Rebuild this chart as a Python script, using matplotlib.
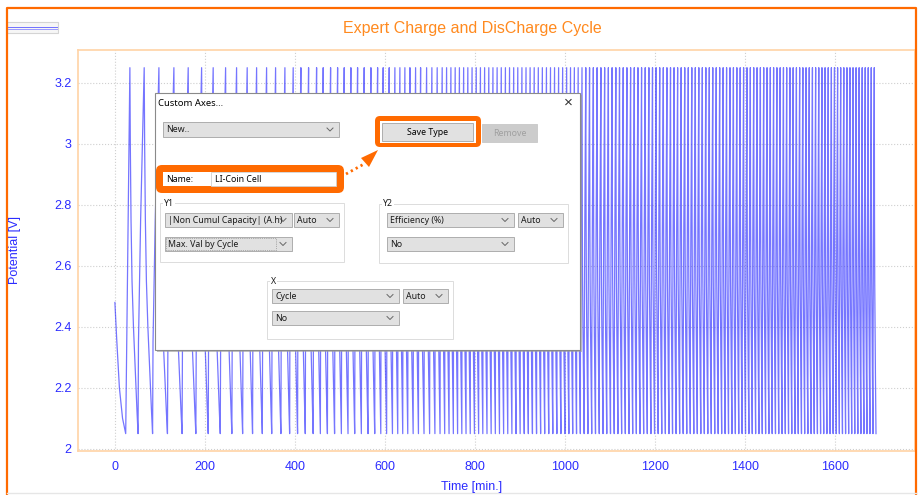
import matplotlib
matplotlib.use('Agg')
import matplotlib.pyplot as plt
from matplotlib.patches import Rectangle, FancyBboxPatch, Polygon

# potential trace: times (min) of the 3.25 V peaks
start_t = [0.0, 4.0, 10.0, 17.0, 24.0]
start_v = [2.48, 2.36, 2.20, 2.10, 2.05]
peak_times = [
    33.3, 65.1, 97.8, 131.1, 162.9, 192.7, 218.4, 246.0, 270.4, 294.0,
    314.9, 337.1, 357.1, 377.8, 396.2, 413.3, 430.4, 448.2, 462.9, 479.3,
    494.9, 509.6, 524.4, 539.3, 554.0, 568.9, 583.8, 596.2, 609.6, 622.2,
    633.3, 644.4, 655.6, 668.2, 679.3, 692.7, 704.4, 716.2, 727.3, 737.1,
    746.7, 756.2, 765.6, 775.0, 784.3, 793.7, 803.0, 812.3, 821.6, 830.9,
    840.1, 849.4, 858.6, 867.8, 877.0, 886.2, 895.3, 904.5, 913.6, 922.7,
    931.8, 940.9, 949.9, 959.0, 968.0, 977.0, 986.0, 995.0, 1003.9, 1012.5,
    1021.0, 1029.5, 1038.0, 1046.4, 1054.8, 1063.2, 1071.6, 1080.0, 1088.3, 1096.6,
    1104.9, 1113.2, 1121.4, 1129.6, 1137.8, 1146.0, 1154.2, 1162.3, 1170.4, 1178.5,
    1186.6, 1194.7, 1202.7, 1210.7, 1218.7, 1226.7, 1234.7, 1242.6, 1250.5, 1258.4,
    1266.3, 1274.2, 1282.0, 1289.8, 1297.6, 1305.4, 1313.2, 1320.9, 1328.6, 1336.3,
    1344.0, 1351.7, 1359.3, 1366.9, 1374.5, 1382.1, 1389.6, 1397.1, 1404.6, 1412.1,
    1419.6, 1427.0, 1434.4, 1441.8, 1449.2, 1456.5, 1463.8, 1471.1, 1478.4, 1485.7,
    1492.9, 1500.1, 1507.3, 1514.5, 1521.7, 1528.8, 1535.9, 1543.0, 1550.1, 1557.2,
    1564.2, 1571.2, 1578.2, 1585.2, 1592.2, 1599.1, 1606.0, 1612.9, 1619.8, 1626.7,
    1633.5, 1640.3, 1647.1, 1653.9, 1660.7, 1667.4, 1674.1, 1680.8, 1687.5,
]
# shape of one cycle from its peak to the next one (fraction of the cycle, volts)
cycle_frac = [0.0, 0.03, 0.08, 0.15, 0.25, 0.38, 0.50, 0.57, 0.60, 0.75, 0.92]
cycle_volt = [3.25, 3.00, 2.75, 2.55, 2.40, 2.25, 2.12, 2.05, 2.35, 2.75, 3.10]

x_ticks = [0, 200, 400, 600, 800, 1000, 1200, 1400, 1600]
y_ticks = [2.0, 2.2, 2.4, 2.6, 2.8, 3.0, 3.2]
y_labels = ['2', '2.2', '2.4', '2.6', '2.8', '3', '3.2']

W, H = 918, 495
BLUE = '#2b2bff'
ORANGE = '#ff6a00'
plt.rcParams['font.family'] = ['Liberation Sans', 'DejaVu Sans']


def box(x0, y0, x1, y1):
    return [x0 / W, 1 - y1 / H, (x1 - x0) / W, (y1 - y0) / H]


def combo(a, x0, y0, x1, y1, text, fc='#e1e1e1', ec='#adadad', color='#1a1a1a', arrow=True):
    a.add_patch(Rectangle((x0, y0), x1 - x0, y1 - y0, fc=fc, ec=ec, lw=0.7))
    cy = (y0 + y1) / 2
    a.text(x0 + 3, cy + 0.5, text, fontsize=6.3, va='center', ha='left', color=color,
           family='Noto Sans')
    if arrow:
        a.plot([x1 - 12, x1 - 9, x1 - 6], [cy - 1.5, cy + 1.5, cy - 1.5], color='#666666', lw=0.7)


def group(a, x0, y0, x1, y1, label):
    a.add_patch(Rectangle((x0, y0), x1 - x0, y1 - y0, fc='none', ec='#dcdcdc', lw=0.7))
    a.text(x0 + 4, y0, label, fontsize=6.3, va='center', ha='left', color='#1a1a1a',
           family='Noto Sans', bbox=dict(fc='white', ec='none', pad=0.5))


def main():
    # build the polyline from the read peaks
    t = list(start_t)
    v = list(start_v)
    for i, p in enumerate(peak_times):
        last = i + 1 == len(peak_times)
        period = (p - peak_times[i - 1]) if last else (peak_times[i + 1] - p)
        for f, vv in zip(cycle_frac, cycle_volt):
            t.append(p + f * period)
            v.append(vv)
            if last and vv == 2.05:
                break

    fig = plt.figure(figsize=(W / 100, H / 100), dpi=100)
    ax = fig.add_axes(box(78, 50, 915, 451))
    ax.plot(t, v, color=BLUE, lw=0.9, alpha=0.65)
    ax.set_xlim(-82, 1778)
    ax.set_ylim(1.993, 3.308)
    ax.set_xticks(x_ticks)
    ax.set_yticks(y_ticks)
    ax.set_yticklabels(y_labels)
    ax.tick_params(length=0, colors=BLUE, labelsize=9)
    ax.tick_params(axis='x', pad=7)
    ax.tick_params(axis='y', pad=4.5)
    ax.grid(True, color='#cfcfcf', ls=':', lw=0.8)
    for s in ax.spines.values():
        s.set_color('#ffd3a6')
        s.set_linewidth(1.2)

    # overlay in pixel coordinates
    d = fig.add_axes([0, 0, 1, 1], zorder=5)
    d.set_xlim(0, W)
    d.set_ylim(H, 0)
    d.axis('off')
    d.patch.set_alpha(0)

    # outer frame
    d.plot([6.5, 6.5, 916, 916], [H, 8, 8, H], color=ORANGE, lw=1.6)
    d.plot([6.5, 916], [493, 493], color='#e6e6e6', lw=1)
    d.add_patch(Rectangle((7, 22), 51, 11, fc='#f6f6f6', ec='#d4d4d4', lw=0.8))
    d.plot([8, 57], [27, 27], color='#7070ff', lw=0.7)
    d.plot([8, 57], [28.5, 28.5], color='#9a9aff', lw=0.7)

    d.text(472, 28, 'Expert Charge and DisCharge Cycle', color='#ff8a1f', fontsize=11.5,
           ha='center', va='center')
    d.text(15, 250, 'Potential [V]', color=BLUE, fontsize=9, rotation=90,
           ha='center', va='center')
    d.text(472, 487, 'Time [min.]', color=BLUE, fontsize=9, ha='center', va='center')

    # dialog
    d.add_patch(Rectangle((157, 95), 425, 257, fc='#9a9a9a', ec='none', alpha=0.6))
    d.add_patch(Rectangle((155, 93), 425, 257, fc='white', ec='#8a8a8a', lw=0.8))
    d.text(158, 104, 'Custom Axes...', fontsize=6.8, va='center', ha='left', family='Noto Sans')
    d.text(568, 103, '\u00d7', fontsize=11, va='center', ha='center', color='#333333')

    combo(d, 163, 122, 339, 137, 'New..')

    d.add_patch(FancyBboxPatch((375, 116), 106, 31, boxstyle='round,pad=0,rounding_size=5',
                               fc=ORANGE, ec='none'))
    d.add_patch(Rectangle((380, 121), 96, 22, fc='white', ec='none'))
    combo(d, 382, 123, 473, 141, '', arrow=False)
    d.text(427.5, 132.5, 'Save Type', fontsize=6.3, ha='center', va='center', family='Noto Sans')
    combo(d, 482, 124, 537, 142, '', fc='#cccccc', ec='#cccccc', arrow=False)
    d.text(509.5, 133.5, 'Remove', fontsize=6.3, ha='center', va='center', color='#a0a0a0',
           family='Noto Sans')

    d.add_patch(FancyBboxPatch((156, 165), 188, 28, boxstyle='round,pad=0,rounding_size=6',
                               fc=ORANGE, ec='none'))
    d.add_patch(Rectangle((163, 172), 173, 14, fc='white', ec='none'))
    d.add_patch(Rectangle((211, 172), 125, 14, fc='white', ec='#d0d0d0', lw=0.6))
    d.text(166, 179.5, 'Name:', fontsize=6.3, va='center', family='Noto Sans')
    d.text(215, 179, 'LI-Coin Cell', fontsize=6.3, va='center', family='Noto Sans')

    d.plot([346, 364], [174, 164], color=ORANGE, lw=2, ls=(0, (0.8, 1.2)))
    d.add_patch(Polygon([[378, 150], [361, 158], [369, 167]], closed=True, fc=ORANGE, ec='none'))

    group(d, 160, 203, 344, 262, 'Y1')
    combo(d, 165, 213, 292, 227, '|Non Cumul Capacity| (A.h)')
    combo(d, 294, 213, 339, 227, 'Auto')
    combo(d, 165, 237, 292, 251, 'Max. Val by Cycle')
    d.add_patch(Rectangle((166, 238), 110, 12, fc='none', ec='#777777', lw=0.5, ls=':'))

    group(d, 379, 204, 568, 263, 'Y2')
    combo(d, 387, 213, 514, 227, 'Efficiency (%)')
    combo(d, 518, 213, 563, 227, 'Auto')
    combo(d, 387, 237, 514, 251, 'No')

    group(d, 267, 281, 453, 339, 'X')
    combo(d, 272, 289, 399, 303, 'Cycle')
    combo(d, 403, 289, 448, 303, 'Auto')
    combo(d, 272, 311, 399, 325, 'No')

    fig.savefig('out.png', dpi=100)


if __name__ == '__main__':
    main()
